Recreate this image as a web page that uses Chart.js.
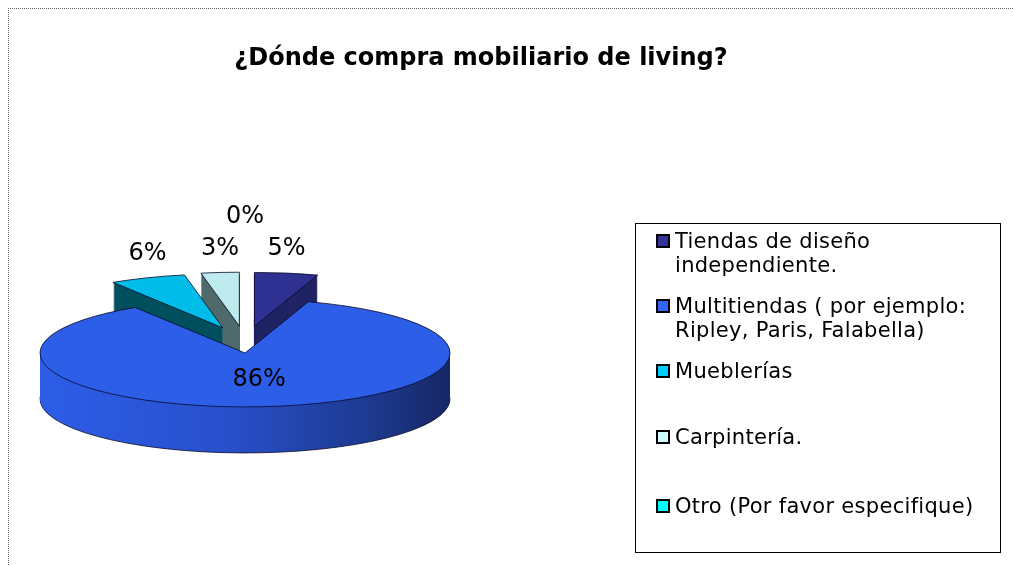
<!DOCTYPE html>
<html>
<head>
<meta charset="utf-8">
<script src="https://cdn.jsdelivr.net/npm/chart.js@4.4.0/dist/chart.umd.min.js"></script>
<style>
  html, body { margin:0; padding:0; background:#fff; width:1013px; height:565px; overflow:hidden; position:relative; font-family:"DejaVu Sans", sans-serif; }
  #frame { position:absolute; left:8px; top:8px; width:1100px; height:700px; border-left:1px dotted #666; border-top:1px dotted #666; }
  #chart { position:absolute; left:0; top:0; }
  #title { position:absolute; left:0; top:43px; width:962px; text-align:center; font-weight:bold; font-size:24px; line-height:28px; color:#000; white-space:nowrap; }
  #legend { position:absolute; left:635px; top:223px; width:366px; height:330px; border:1px solid #000; box-sizing:border-box; }
  .item { position:absolute; left:0; width:360px; }
  .sw { position:absolute; left:20px; width:14px; height:14px; border:2px solid #000; box-sizing:border-box; }
  .tx { position:absolute; left:39px; font-size:21px; line-height:24px; letter-spacing:0.3px; color:#000; white-space:nowrap; }
</style>
</head>
<body>
<div id="frame"></div>
<canvas id="chart" width="1013" height="565"></canvas>
<div id="title">¿Dónde compra mobiliario de living?</div>
<div id="legend"></div>
<script>
// ---- data ----
const categories = [
  'Tiendas de diseño independiente.',
  'Multitiendas ( por ejemplo: Ripley, Paris, Falabella)',
  'Mueblerías',
  'Carpintería.',
  'Otro (Por favor especifique)'
];
const legendLines = [
  ['Tiendas de diseño', 'independiente.'],
  ['Multitiendas ( por ejemplo:', 'Ripley, Paris, Falabella)'],
  ['Mueblerías'],
  ['Carpintería.'],
  ['Otro (Por favor especifique)']
];
const values = [5, 86, 6, 3, 0];

// ---- styles ----
const topColors = ['#2E3192', '#2D5EE8', '#00BCE9', '#BDEBEE', '#FFFFFF'];
const sideColors = ['#1F2263', 'GRADIENT', '#00505E', '#4F6A6A', '#DDDDDD'];
const swatchColors = ['#333399', '#3366FF', '#00CCFF', '#CCFFFF', '#00FFFF'];
const legendTops = [228, 293, 358, 424, 493];

// legend (HTML)
const lg = document.getElementById('legend');
legendLines.forEach((lines, i) => {
  const it = document.createElement('div');
  it.className = 'item';
  it.style.top = (legendTops[i] - 223) + 'px';
  const sw = document.createElement('div');
  sw.className = 'sw';
  sw.style.background = swatchColors[i];
  sw.style.top = '5px';
  const tx = document.createElement('div');
  tx.className = 'tx';
  tx.innerHTML = lines.join('<br>');
  it.appendChild(sw); it.appendChild(tx);
  lg.appendChild(it);
});

const pie3d = {
  id: 'pie3d',
  beforeDatasetsDraw(chart, args, opts) {
    const ctx = chart.ctx;
    const arcs = chart.getDatasetMeta(0).data;
    const k = opts.tilt, depth = opts.depth;
    const geo = arcs.map((a, i) => {
      const mid = (a.startAngle + a.endAngle) / 2;
      const ex = opts.explode[i] ? opts.explodeX * Math.cos(mid) : 0;
      const ey = opts.explode[i] ? opts.explodeY * Math.sin(mid) : 0;
      return { a, i, mid, ex, ey };
    });
    chart.$pie3d = geo;
    const order = geo.slice().sort((p, q) => p.ey - q.ey);

    const applyT = (g, dy) => {
      ctx.translate(g.ex, g.ey + dy);
      ctx.translate(g.a.x, g.a.y);
      ctx.scale(1, k);
      ctx.translate(-g.a.x, -g.a.y);
    };
    const fillWith = (g, dy, color) => {
      const a = g.a, o = a.options;
      a.options = Object.assign({}, o, { backgroundColor: color, borderWidth: 0 });
      ctx.save(); applyT(g, dy); a.draw(ctx); ctx.restore();
      a.options = o;
    };
    const outline = (g, dy) => {
      const a = g.a;
      ctx.save();
      applyT(g, dy);
      ctx.beginPath();
      ctx.moveTo(a.x, a.y);
      ctx.arc(a.x, a.y, a.outerRadius, a.startAngle, a.endAngle);
      ctx.closePath();
      ctx.restore();
      ctx.save();
      ctx.lineWidth = 1;
      ctx.strokeStyle = opts.lineColor;
      ctx.stroke();
      ctx.restore();
    };

    order.forEach(g => {
      const a = g.a;
      if (!a.circumference) return;
      let side = sideColors[g.i];
      if (side === 'GRADIENT') {
        const grd = ctx.createLinearGradient(a.x - a.outerRadius, 0, a.x + a.outerRadius, 0);
        grd.addColorStop(0, '#2D5DE8');
        grd.addColorStop(0.45, '#2850CC');
        grd.addColorStop(0.8, '#1D3A90');
        grd.addColorStop(1, '#172766');
        side = grd;
      }
      for (let dy = depth; dy >= 1; dy--) {
        fillWith(g, dy, side);
        if (dy === depth) outline(g, dy);
      }
      ctx.save(); applyT(g, 0); a.draw(ctx); ctx.restore();
      outline(g, 0);
    });
    return false;
  },
  afterDraw(chart, args, opts) {
    const geo = chart.$pie3d;
    if (!geo) return;
    const ctx = chart.ctx;
    const k = opts.tilt;
    const total = values.reduce((s, v) => s + v, 0);
    ctx.save();
    ctx.font = opts.font;
    ctx.fillStyle = '#000';
    ctx.textAlign = 'center';
    ctx.textBaseline = 'middle';
    const placed = [];
    geo.forEach(g => {
      const a = g.a, v = values[g.i];
      let x, y;
      if (v / total >= 0.5) {
        x = a.x + 0.55 * a.outerRadius * Math.cos(g.mid);
        y = a.y + 0.5 * a.outerRadius * Math.sin(g.mid) * k;
      } else {
        x = a.x + g.ex + a.outerRadius * Math.cos(g.mid);
        y = a.y + g.ey + a.outerRadius * Math.sin(g.mid) * k - opts.labelLift;
      }
      const text = Math.round(v / total * 100) + '%';
      const w = ctx.measureText(text).width, h = 26;
      let moved = true, guard = 0;
      while (moved && guard++ < 10) {
        moved = false;
        for (const p of placed) {
          if (Math.abs(p.x - x) < (p.w + w) / 2 && Math.abs(p.y - y) < h) {
            y = p.y - h - 6; moved = true;
          }
        }
      }
      placed.push({ x, y, w });
      ctx.fillText(text, x, y);
    });
    ctx.restore();
  }
};

new Chart(document.getElementById('chart'), {
  type: 'pie',
  data: {
    labels: categories,
    datasets: [{ data: values, backgroundColor: topColors, borderWidth: 0, clip: false }]
  },
  options: {
    responsive: false,
    animation: false,
    radius: 205,
    layout: { padding: { left: 0, right: 523, top: 200, bottom: 59 } },
    plugins: {
      legend: { display: false },
      tooltip: { enabled: false },
      title: { display: false },
      pie3d: {
        tilt: 0.263, depth: 46,
        explode: [1, 0, 1, 1, 1], explodeX: 60, explodeY: 27,
        lineColor: 'rgba(10,10,40,0.8)',
        font: '24px "DejaVu Sans", sans-serif',
        labelLift: 24
      }
    }
  },
  plugins: [pie3d]
});
</script>
</body>
</html>
